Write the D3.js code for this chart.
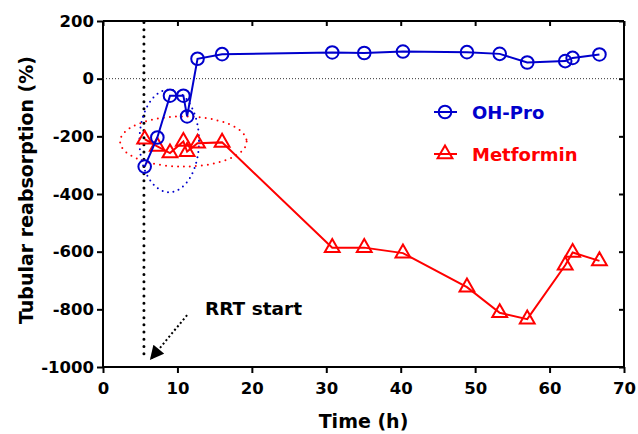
<!DOCTYPE html>
<html>
<head>
<meta charset="utf-8">
<script src="https://cdn.jsdelivr.net/npm/d3@7"></script>
<style>
  body { margin: 0; background: #fff; }
  svg text { font-family: "DejaVu Sans", Verdana, sans-serif; font-weight: bold; }
  .axis path, .axis line { stroke: #000; stroke-width: 2px; }
  .axis text { font-size: 16.5px; fill: #000; }
</style>
</head>
<body>
<svg id="chart"></svg>
<script>
// data
const times = [5.6, 7.3, 9.0, 10.8, 11.3, 12.7, 16.0, 30.8, 35.1, 40.3, 48.9, 53.3, 57.0, 62.1, 63.1, 66.7];
const ohPro = [-305, -204, -59, -59, -131, 69, 85, 91, 89, 94, 92, 86, 56, 61, 72, 84];
const metformin = [-210, -235, -258, -218, -253, -224, -221, -586, -586, -605, -723, -812, -834, -647, -603, -632];
const xTicks = [0, 10, 20, 30, 40, 50, 60, 70];
const yTicks = [200, 0, -200, -400, -600, -800, -1000];
const rrtStart = 5.5;

const width = 638, height = 434;
const margin = { top: 21, right: 14, bottom: 67, left: 103 };

const svg = d3.select("#chart").attr("width", width).attr("height", height);

const x = d3.scaleLinear().domain([0, 70]).range([margin.left, width - margin.right]);
const y = d3.scaleLinear().domain([-1000, 200]).range([height - margin.bottom, margin.top]);

const plain = d => String(d);  // keep "-1000" with a hyphen, no thousands comma

// frame axes (top / right, inward ticks, no labels)
svg.append("g").attr("class", "axis")
    .attr("transform", `translate(0,${margin.top})`)
    .call(d3.axisTop(x).tickValues(xTicks).tickSize(-5).tickFormat(""))
    .call(g => g.select(".domain").attr("d", `M${x(0)},0H${x(70)}`));
svg.append("g").attr("class", "axis")
    .attr("transform", `translate(${width - margin.right},0)`)
    .call(d3.axisRight(y).tickValues(yTicks).tickSize(-5).tickFormat(""))
    .call(g => g.select(".domain").attr("d", `M0,${y(200)}V${y(-1000)}`));

// main axes
svg.append("g").attr("class", "axis")
    .attr("transform", `translate(0,${height - margin.bottom})`)
    .call(d3.axisBottom(x).tickValues(xTicks).tickSize(6).tickPadding(9).tickFormat(plain))
    .call(g => g.select(".domain").attr("d", `M${x(0)},0H${x(70)}`));
svg.append("g").attr("class", "axis")
    .attr("transform", `translate(${margin.left},0)`)
    .call(d3.axisLeft(y).tickValues(yTicks).tickSize(6).tickPadding(3).tickFormat(plain))
    .call(g => g.select(".domain").attr("d", `M0,${y(200)}V${y(-1000)}`));

// axis titles
svg.append("text")
    .attr("x", (x(0) + x(70)) / 2).attr("y", 428)
    .attr("text-anchor", "middle").style("font-size", "19px")
    .text("Time (h)");
svg.append("text")
    .attr("transform", "translate(33,190) rotate(-90)")
    .attr("text-anchor", "middle").style("font-size", "19px")
    .text("Tubular reabsorption (%)");

// zero reference line
svg.append("line")
    .attr("x1", x(0)).attr("x2", x(70))
    .attr("y1", y(0)).attr("y2", y(0))
    .attr("stroke", "#333").attr("stroke-width", 1).attr("stroke-dasharray", "1,2");

// RRT start vertical dotted line
svg.append("line")
    .attr("x1", x(rrtStart)).attr("x2", x(rrtStart))
    .attr("y1", y(195)).attr("y2", y(-975))
    .attr("stroke", "#000").attr("stroke-width", 3)
    .attr("stroke-linecap", "round").attr("stroke-dasharray", "0,7.2");

// dotted ellipses around early points
svg.append("ellipse")
    .attr("cx", x(8.9)).attr("cy", y(-216))
    .attr("rx", x(8.9 + 4.0) - x(8.9)).attr("ry", y(-216) - y(-216 + 178))
    .attr("fill", "none").attr("stroke", "#0000cc").attr("stroke-width", 2)
    .attr("stroke-linecap", "round").attr("stroke-dasharray", "0,5.5");
svg.append("ellipse")
    .attr("cx", x(10.8)).attr("cy", y(-218))
    .attr("rx", x(10.8 + 8.5) - x(10.8)).attr("ry", y(-218) - y(-218 + 87))
    .attr("fill", "none").attr("stroke", "#ff0000").attr("stroke-width", 2)
    .attr("stroke-linecap", "round").attr("stroke-dasharray", "0,6");

// arrow + label
svg.append("defs").append("marker")
    .attr("id", "arrowhead")
    .attr("viewBox", "0 0 10 10").attr("refX", 10).attr("refY", 5)
    .attr("markerWidth", 16).attr("markerHeight", 14)
    .attr("markerUnits", "userSpaceOnUse").attr("orient", "auto")
    .append("path").attr("d", "M0,0L10,5L0,10Z").attr("fill", "#000");
svg.append("line")
    .attr("x1", x(11.3)).attr("y1", y(-820))
    .attr("x2", x(6.3)).attr("y2", y(-976))
    .attr("stroke", "#000").attr("stroke-width", 2)
    .attr("stroke-dasharray", "2,2.5")
    .attr("marker-end", "url(#arrowhead)");
svg.append("text")
    .attr("x", x(13.7)).attr("y", y(-820))
    .style("font-size", "18.5px")
    .text("RRT start");

// series
const line = d3.line().x((d, i) => x(times[i])).y(d => y(d));
const triangle = d3.symbol().type(d3.symbolTriangle).size(95);

svg.append("path").datum(metformin)
    .attr("d", line).attr("fill", "none")
    .attr("stroke", "#ff0000").attr("stroke-width", 2);
svg.selectAll(".tri").data(metformin).enter().append("path")
    .attr("class", "tri")
    .attr("transform", (d, i) => `translate(${x(times[i])},${y(d)})`)
    .attr("d", triangle)
    .attr("fill", "none").attr("stroke", "#ff0000").attr("stroke-width", 2);

svg.append("path").datum(ohPro)
    .attr("d", line).attr("fill", "none")
    .attr("stroke", "#0000cc").attr("stroke-width", 2);
svg.selectAll(".circ").data(ohPro).enter().append("circle")
    .attr("class", "circ")
    .attr("cx", (d, i) => x(times[i])).attr("cy", d => y(d))
    .attr("r", 6.3)
    .attr("fill", "none").attr("stroke", "#0000cc").attr("stroke-width", 2);

// legend
const legend = [
    { name: "OH-Pro", color: "#0000cc", shape: "circle", yPos: 112 },
    { name: "Metformin", color: "#ff0000", shape: "triangle", yPos: 154 },
];
const lg = svg.selectAll(".legend").data(legend).enter().append("g")
    .attr("class", "legend")
    .attr("transform", d => `translate(445,${d.yPos})`);
lg.append("line").attr("x1", -11).attr("x2", 12)
    .attr("stroke", d => d.color).attr("stroke-width", 2);
lg.filter(d => d.shape === "circle").append("circle")
    .attr("r", 6.3).attr("fill", "none")
    .attr("stroke", d => d.color).attr("stroke-width", 2);
lg.filter(d => d.shape === "triangle").append("path")
    .attr("d", triangle).attr("fill", "none")
    .attr("stroke", d => d.color).attr("stroke-width", 2);
lg.append("text")
    .attr("x", 27).attr("y", 6.5)
    .style("font-size", "18px")
    .attr("fill", d => d.color)
    .text(d => d.name);
</script>
</body>
</html>
